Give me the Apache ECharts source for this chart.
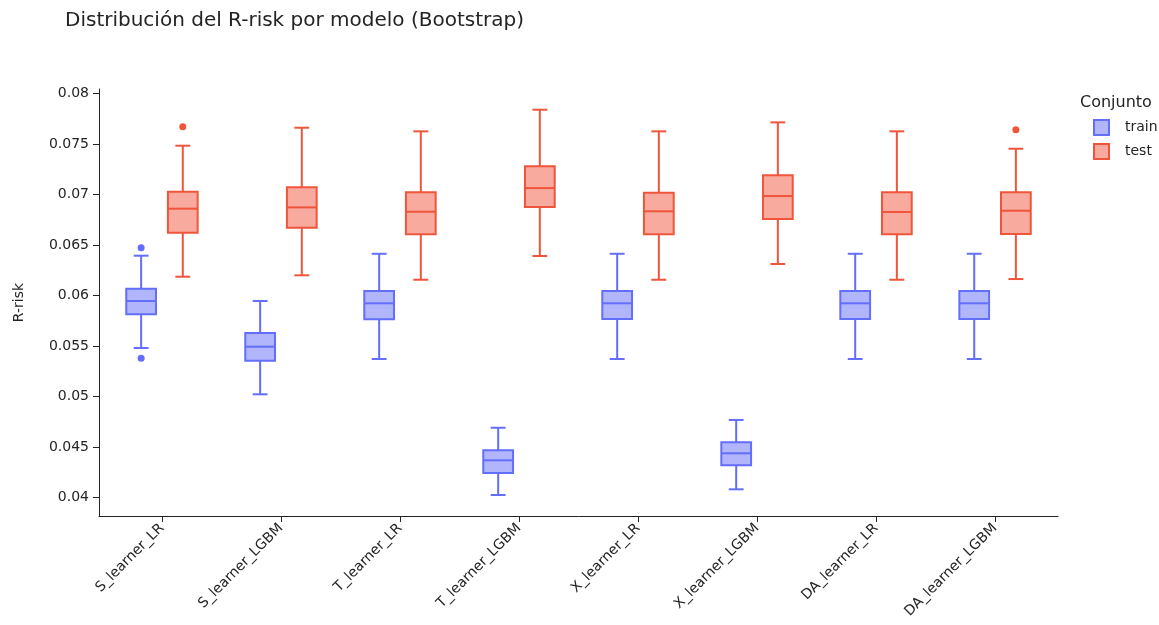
<!DOCTYPE html>
<html>
<head>
<meta charset="utf-8">
<script src="https://cdn.jsdelivr.net/npm/echarts@6/dist/echarts.min.js"></script>
<style>
  html, body { margin: 0; padding: 0; background: #fff; }
  #chart { width: 1159px; height: 625px; }
</style>
</head>
<body>
<div id="chart"></div>
<script>
// Models evaluated
const models = ['S_learner_LR', 'S_learner_LGBM', 'T_learner_LR', 'T_learner_LGBM',
                'X_learner_LR', 'X_learner_LGBM', 'DA_learner_LR', 'DA_learner_LGBM'];

// Bootstrap summaries per model: [lower whisker, Q1, median, Q3, upper whisker]
const trainStats = [
  [0.05481, 0.05814, 0.05946, 0.06067, 0.06394],
  [0.05023, 0.05355, 0.05494, 0.05629, 0.05946],
  [0.05372, 0.05765, 0.05923, 0.06045, 0.06413],
  [0.04027, 0.04244, 0.04370, 0.04469, 0.04692],
  [0.05372, 0.05768, 0.05923, 0.06045, 0.06413],
  [0.04083, 0.04320, 0.04439, 0.04548, 0.04769],
  [0.05372, 0.05768, 0.05923, 0.06045, 0.06413],
  [0.05372, 0.05768, 0.05923, 0.06045, 0.06413]
];
const testStats = [
  [0.06186, 0.06621, 0.06859, 0.07027, 0.07482],
  [0.06200, 0.06671, 0.06872, 0.07070, 0.07660],
  [0.06156, 0.06605, 0.06829, 0.07021, 0.07624],
  [0.06391, 0.06875, 0.07063, 0.07278, 0.07838],
  [0.06156, 0.06605, 0.06833, 0.07017, 0.07624],
  [0.06312, 0.06757, 0.06984, 0.07189, 0.07713],
  [0.06156, 0.06605, 0.06826, 0.07021, 0.07624],
  [0.06163, 0.06608, 0.06839, 0.07021, 0.07452]
];

// Outliers: [model index, R-risk]
const trainOutliers = [[0, 0.06473], [0, 0.05379]];
const testOutliers = [[0, 0.07670], [7, 0.07640]];

// Y axis tick values
const yTicks = [0.04, 0.045, 0.05, 0.055, 0.06, 0.065, 0.07, 0.075, 0.08];

const FONT = 'DejaVu Sans';
const TEXT = '#242424';
const AXIS = '#242424';
const TRAIN_LINE = '#636efa', TRAIN_FILL = 'rgba(99,110,250,0.5)';
const TEST_LINE = '#ef553b', TEST_FILL = 'rgba(239,85,59,0.5)';

// Box with whiskers, shifted inside the model's slot by `offset` (in slot units)
function boxRenderer(offset, line, fill) {
  return function (params, api) {
    const i = api.value(0);
    const unit = api.size([1, 0])[0];
    const x = api.coord([i, api.value(3)])[0] + offset * unit;
    const half = 0.125 * unit;
    const cap = half / 2;
    const y = k => api.coord([i, api.value(k)])[1];
    const yLo = y(1), yQ1 = y(2), yMed = y(3), yQ3 = y(4), yHi = y(5);
    const ls = { stroke: line, lineWidth: 2, fill: null };
    return {
      type: 'group',
      children: [
        { type: 'line', shape: { x1: x, y1: yHi, x2: x, y2: yQ3 }, style: ls },
        { type: 'line', shape: { x1: x, y1: yQ1, x2: x, y2: yLo }, style: ls },
        { type: 'line', shape: { x1: x - cap, y1: yHi, x2: x + cap, y2: yHi }, style: ls },
        { type: 'line', shape: { x1: x - cap, y1: yLo, x2: x + cap, y2: yLo }, style: ls },
        { type: 'rect', shape: { x: x - half, y: yQ3, width: 2 * half, height: yQ1 - yQ3 },
          style: { fill: fill, stroke: line, lineWidth: 2 } },
        { type: 'line', shape: { x1: x - half, y1: yMed, x2: x + half, y2: yMed }, style: ls }
      ]
    };
  };
}

function outlierRenderer(offset, color) {
  return function (params, api) {
    const unit = api.size([1, 0])[0];
    const p = api.coord([api.value(0), api.value(1)]);
    return { type: 'circle', shape: { cx: p[0] + offset * unit, cy: p[1], r: 3.5 },
             style: { fill: color } };
  };
}

const chart = echarts.init(document.getElementById('chart'));
chart.setOption({
  animation: false,
  backgroundColor: '#fff',
  textStyle: { fontFamily: FONT, color: TEXT },
  title: [
    { text: 'Distribución del R-risk por modelo (Bootstrap)', left: 60, top: 6,
      textStyle: { fontFamily: FONT, fontSize: 20, fontWeight: 'normal', color: TEXT } },
    { text: 'Conjunto', left: 1075, top: 90,
      textStyle: { fontFamily: FONT, fontSize: 16, fontWeight: 'normal', color: TEXT } }
  ],
  legend: {
    orient: 'vertical', left: 1093, top: 119, itemWidth: 15, itemHeight: 15, itemGap: 7,
    padding: 0,
    textStyle: { fontFamily: FONT, fontSize: 14, color: TEXT, padding: [0, 0, 0, 11] },
    data: [
      { name: 'train', icon: 'rect', itemStyle: { color: TRAIN_FILL, borderColor: TRAIN_LINE, borderWidth: 2 } },
      { name: 'test', icon: 'rect', itemStyle: { color: TEST_FILL, borderColor: TEST_LINE, borderWidth: 2 } }
    ]
  },
  grid: { left: 99, right: 101, top: 89, bottom: 109 },
  xAxis: {
    type: 'value', min: -0.529, max: 7.529,
    splitLine: { show: false },
    axisLine: { show: true, onZero: false, lineStyle: { color: AXIS, width: 1 } },
    axisTick: { show: true, length: 6, lineStyle: { color: AXIS }, customValues: models.map((m, i) => i) },
    axisLabel: {
      rotate: 45, margin: 10, fontFamily: FONT, fontSize: 14, color: TEXT,
      customValues: models.map((m, i) => i),
      formatter: v => models[Math.round(v)]
    }
  },
  yAxis: {
    type: 'value', min: 0.03819, max: 0.08043,
    name: 'R-risk', nameLocation: 'middle', nameGap: 73, nameRotate: 90,
    nameTextStyle: { fontFamily: FONT, fontSize: 14, color: TEXT },
    splitLine: { show: false },
    axisLine: { show: true, onZero: false, lineStyle: { color: AXIS, width: 1 } },
    axisTick: { show: true, length: 6, lineStyle: { color: AXIS }, customValues: yTicks },
    axisLabel: { margin: 10, fontFamily: FONT, fontSize: 14, color: TEXT,
                 customValues: yTicks, formatter: v => String(+v.toFixed(3)) }
  },
  series: [
    { name: 'train', type: 'custom', renderItem: boxRenderer(-0.175, TRAIN_LINE, TRAIN_FILL),
      itemStyle: { color: TRAIN_FILL, borderColor: TRAIN_LINE, borderWidth: 2 },
      encode: { x: 0, y: [1, 2, 3, 4, 5] },
      data: trainStats.map((s, i) => [i].concat(s)) },
    { name: 'test', type: 'custom', renderItem: boxRenderer(0.175, TEST_LINE, TEST_FILL),
      itemStyle: { color: TEST_FILL, borderColor: TEST_LINE, borderWidth: 2 },
      encode: { x: 0, y: [1, 2, 3, 4, 5] },
      data: testStats.map((s, i) => [i].concat(s)) },
    { name: 'train', type: 'custom', renderItem: outlierRenderer(-0.175, TRAIN_LINE),
      itemStyle: { color: TRAIN_FILL, borderColor: TRAIN_LINE, borderWidth: 2 },
      encode: { x: 0, y: 1 }, data: trainOutliers },
    { name: 'test', type: 'custom', renderItem: outlierRenderer(0.175, TEST_LINE),
      itemStyle: { color: TEST_FILL, borderColor: TEST_LINE, borderWidth: 2 },
      encode: { x: 0, y: 1 }, data: testOutliers }
  ]
});
</script>
</body>
</html>
